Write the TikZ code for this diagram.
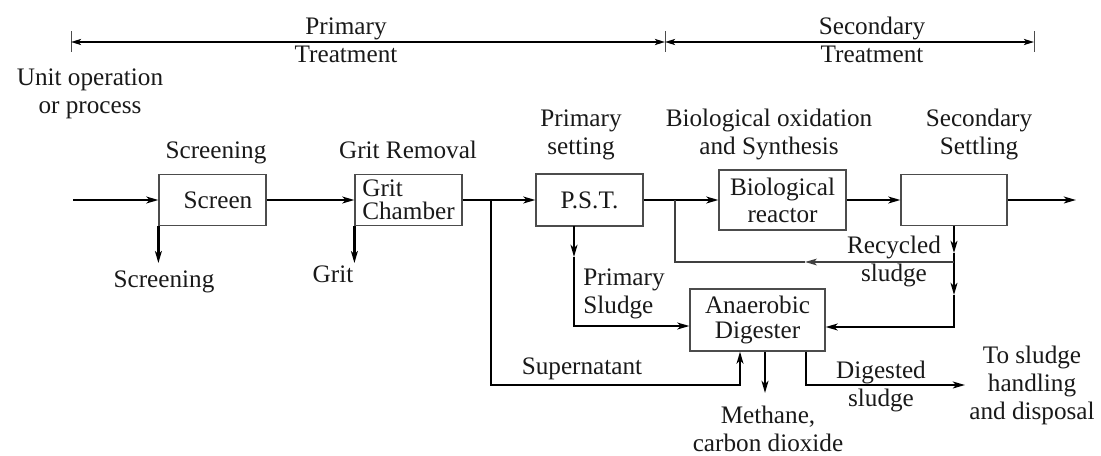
\documentclass[tikz,border=0pt]{standalone}
\usepackage{fontspec}
\setmainfont{Liberation Serif}
\usetikzlibrary{arrows.meta,calc}
\tikzset{
  lbl/.style={font=\fontsize{12.6}{14}\selectfont, inner sep=0pt, align=center, text=black!90},
  blk/.style={draw=black!70, line width=0.6pt, inner sep=0pt, align=center, text=black!90, font=\fontsize{12.6}{14}\selectfont},
  tipa/.tip={Stealth[length=6pt,width=3.4pt,inset=1.6pt]},
  tipb/.tip={Stealth[length=5pt,width=3pt,inset=1.2pt]},
  flow/.style={line width=1.1pt, -tipa},
  recyc/.style={line width=0.7pt, draw=black!75},
  dimline/.style={line width=1pt, tipb-tipb},
  tickline/.style={line width=0.4pt, draw=black!70},
}
\begin{document}
\begin{tikzpicture}[x=0.5pt,y=-0.5pt]
\useasboundingbox (0,0) rectangle (1101,455);

% ---- treatment extents ----
\coordinate (t1) at (71,42);
\coordinate (t2) at (665,42);
\coordinate (t3) at (1034,42);
\foreach \t in {t1,t2,t3}{\draw[tickline] ($(\t)+(0,-11)$) -- ($(\t)+(0,10)$);}
\draw[dimline] (t1) -- (t2);
\draw[dimline] (t2) -- (t3);
\node[lbl] (lprim) at (346,40) {Primary\\Treatment};
\node[lbl] (lsec) at (872,40) {Secondary\\Treatment};

% ---- labels ----
\node[lbl] (lunit) at (90,94) {Unit operation\\or process};
\node[lbl, anchor=base] (lscr) at (216,158) {Screening};
\node[lbl, anchor=base] (lgrr) at (408,158) {Grit Removal};
\node[lbl] (lpset) at (581,134.5) {Primary\\setting};
\node[lbl] (lbio) at (769,134) {Biological oxidation\\and Synthesis};
\node[lbl] (lsset) at (979,134.5) {Secondary\\Settling};

% ---- boxes ----
\node[blk, minimum width=53.5pt, minimum height=25.5pt] (screen) at (212.5,200) {\hspace*{5.5pt}Screen};
\node[blk, align=left, font=\fontsize{12.6}{11.6}\selectfont, minimum width=53.5pt, minimum height=25.5pt] (grit) at (408.5,200) {Grit\\Chamber};
\node[blk, minimum width=53.5pt, minimum height=26pt] (pst) at (589.5,200) {P.S.T.};
\node[blk, font=\fontsize{12.6}{13.5}\selectfont, minimum width=63.5pt, minimum height=30pt] (bio) at (782.5,200) {Biological\\reactor};
\node[blk, minimum width=53pt, minimum height=25.5pt] (sec) at (954,200) {};
\node[blk, font=\fontsize{12.6}{12.5}\selectfont, minimum width=67.5pt, minimum height=31pt] (ana) at (757.5,320) {Anaerobic\\Digester};

% ---- main line ----
\coordinate (in) at (73,200);
\coordinate (out) at (1076,200);
\coordinate (j1) at (491,200);
\coordinate (j2) at (675,200);
\draw[flow] (in) -- (screen.west);
\draw[flow] (screen.east) -- (grit.west);
\draw[flow] (grit.east) -- (pst.west);
\draw[flow] (pst.east) -- (bio.west);
\draw[flow] (bio.east) -- (sec.west);
\draw[flow] (sec.east) -- (out);

% ---- screenings and grit ----
\draw[flow] (screen.south west) -- ++(0,37);
\draw[flow] (grit.south west) -- ++(0,37);
\node[lbl, anchor=base] (lscr2) at (164,287) {Screening};
\node[lbl, anchor=base] (lgrit) at (333,282) {Grit};

% ---- primary sludge ----
\coordinate (p0) at (574,226);
\coordinate (p1) at (574,257);
\coordinate (p2) at (574,326);
\draw[flow] (p0) -- (p1);
\draw[flow] (p1) -- (p2) -- (p2 -| ana.west);
\node[lbl, align=left, anchor=west] (lpsl) at (583,293.5) {Primary\\Sludge};

% ---- secondary sludge ----
\coordinate (q1) at (954,253);
\coordinate (q2) at (954,295);
\coordinate (q3) at (954,327);
\coordinate (r0) at (954,262);
\coordinate (r1) at (805,262);
\coordinate (r2) at (675,262);
\draw[flow] (sec.south) -- (q1);
\draw[flow] (q1) -- (q2);
\draw[flow] (q2) -- (q3) -- (q3 -| ana.east);
\draw[recyc, -tipa] (r0) -- (r1);
\draw[recyc] (r1) -- (r2) -- (j2);
\node[lbl] (lrec) at (894,261) {Recycled\\sludge};

% ---- supernatant ----
\coordinate (s1) at (491,385);
\coordinate (s2) at (740,385);
\draw[flow] (j1) -- (s1) -- (s2) -- (s2 |- ana.south);
\node[lbl, anchor=base] (lsup) at (582,374) {Supernatant};

% ---- methane ----
\coordinate (m1) at (765,393);
\draw[flow] (m1 |- ana.south) -- (m1);
\node[lbl] (lmeth) at (768,429) {Methane,\\carbon dioxide};

% ---- digested sludge ----
\coordinate (d1) at (806,385);
\coordinate (d2) at (965,385);
\draw[flow] (d1 |- ana.south) -- (d1) -- (d2);
\node[lbl] (ldig) at (881,386) {Digested\\sludge};
\node[lbl] (lto) at (1032,385) {To sludge\\handling\\and disposal};
\end{tikzpicture}
\end{document}
